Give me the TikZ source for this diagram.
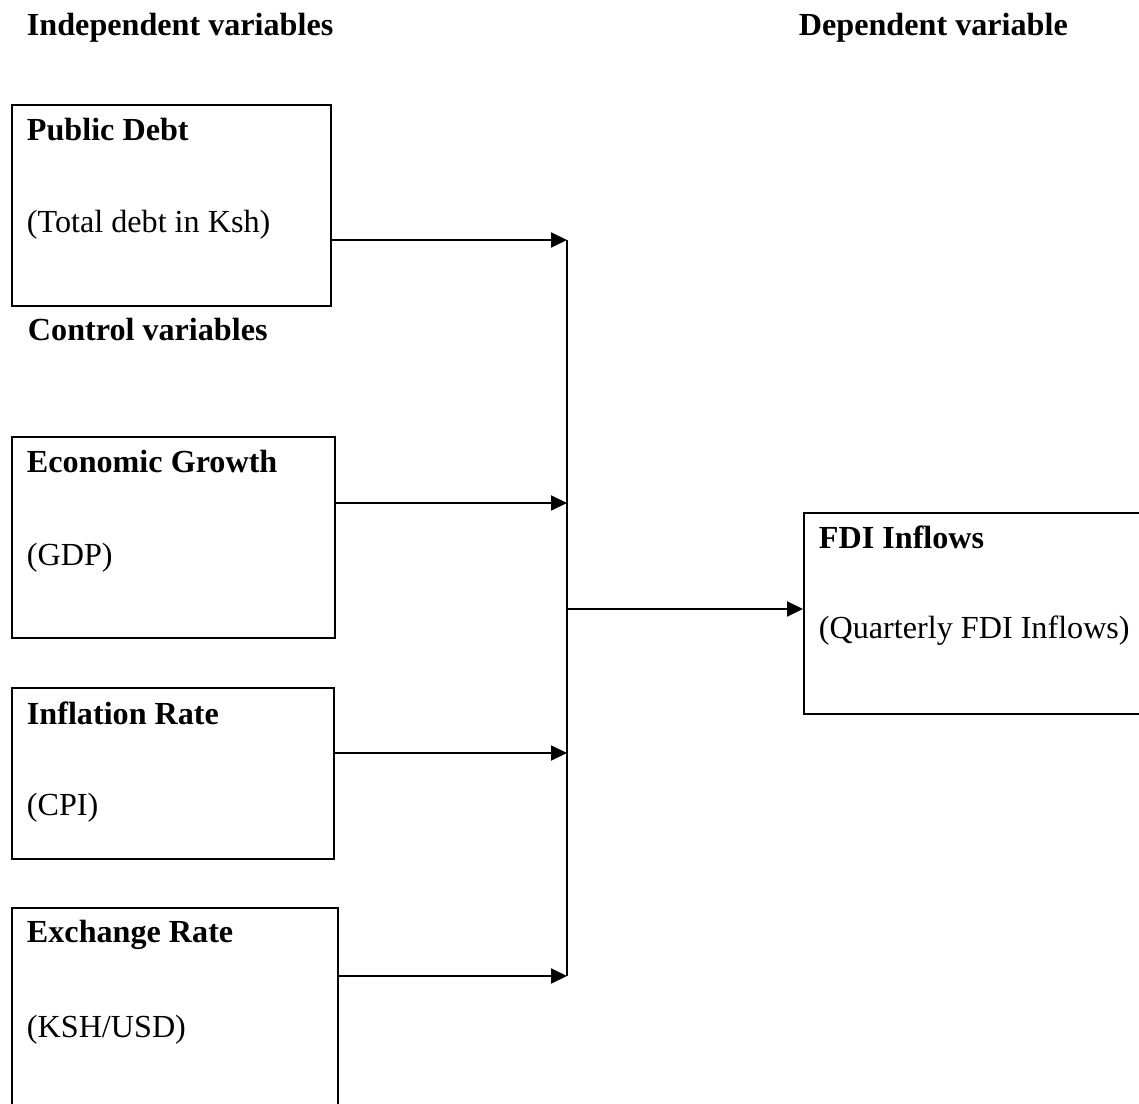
\documentclass[tikz,border=0pt]{standalone}
\usepackage{fontspec}
\setmainfont{Liberation Serif}
\usetikzlibrary{positioning, arrows.meta}

\begin{document}
\begin{tikzpicture}[x=0.02cm, y=-0.02cm, >={Triangle[length=0.32cm, width=0.3cm]}, line width=1.1pt,
	varbox/.style={draw, line width=1.1pt, anchor=north west, inner sep=0pt},
	head/.style={font=\bfseries\fontsize{18.3}{22}\selectfont, inner sep=0pt, anchor=west},
	sub/.style={font=\fontsize{18.3}{22}\selectfont, inner sep=0pt, anchor=west}]
	\clip (0, 0) rectangle (1139, 1104);
	% headings
	\node[head] at (26, 28) (indep) {Independent variables};
	\node[head] at (798, 28) (dep) {Dependent variable};
	\node[head] at (27, 330) (ctrl) {Control variables};
	% variable boxes
	\node[varbox, minimum width=6.38cm, minimum height=4.02cm] at (11, 104) (debt) {};
	\node[varbox, minimum width=6.46cm, minimum height=4.02cm] at (11, 436) (growth) {};
	\node[varbox, minimum width=6.44cm, minimum height=3.42cm] at (11, 687) (infl) {};
	\node[varbox, minimum width=6.52cm, minimum height=4.30cm] at (11, 907) (exch) {};
	\node[varbox, minimum width=6.84cm, minimum height=4.02cm] at (803, 512) (fdi) {};
	\node[head] at ([shift={(15, 26)}]debt.north west) (debt-t) {Public Debt};
	\node[sub] at ([shift={(15, 121)}]debt.north west) (debt-s) {(Total debt in Ksh)};
	\node[head] at ([shift={(15, 26)}]growth.north west) (growth-t) {Economic Growth};
	\node[sub] at ([shift={(15, 122)}]growth.north west) (growth-s) {(GDP)};
	\node[head] at ([shift={(15, 26)}]infl.north west) (infl-t) {Inflation Rate};
	\node[sub] at ([shift={(15, 121)}]infl.north west) (infl-s) {(CPI)};
	\node[head] at ([shift={(15, 28)}]exch.north west) (exch-t) {Exchange Rate};
	\node[sub] at ([shift={(15, 123)}]exch.north west) (exch-s) {(KSH/USD)};
	\node[head] at ([shift={(15, 25)}]fdi.north west) (fdi-t) {FDI Inflows};
	\node[sub] at ([shift={(15, 119)}]fdi.north west) (fdi-s) {(Quarterly FDI Inflows)};
	% connectors
	\coordinate (bus1) at (567, 240);
	\coordinate (bus2) at (567, 503);
	\coordinate (bus3) at (567, 753);
	\coordinate (bus4) at (567, 976);
	\coordinate (bus-out) at (567, 609);
	\draw[->] (debt.east |- bus1) -- (bus1);
	\draw[->] (growth.east |- bus2) -- (bus2);
	\draw[->] (infl.east |- bus3) -- (bus3);
	\draw[->] (exch.east |- bus4) -- (bus4);
	\draw (bus1) -- (bus4);
	\draw[->] (bus-out) -- (fdi.west |- bus-out);
\end{tikzpicture}
\end{document}
